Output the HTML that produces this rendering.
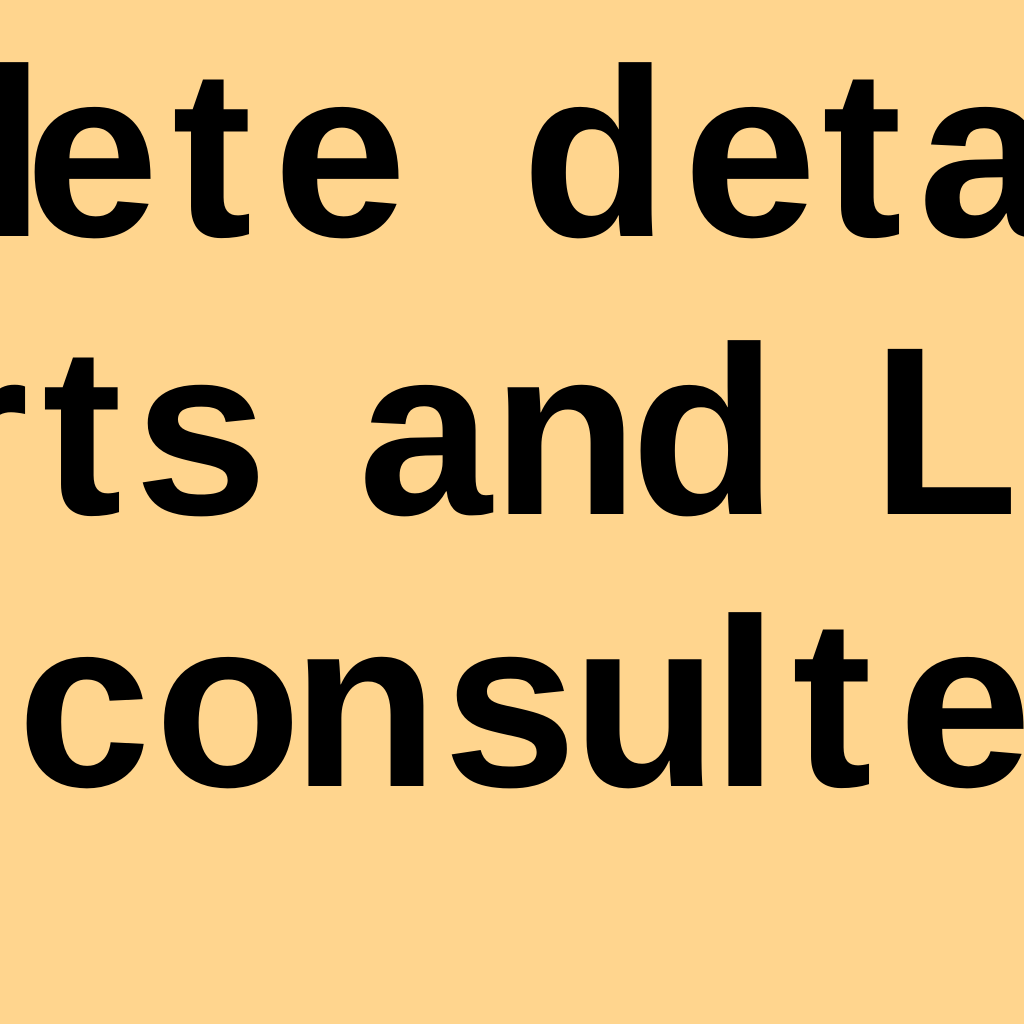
<!DOCTYPE html>
<html><head><style>
html,body{margin:0;padding:0;background:#FFD58E;width:1024px;height:1024px;overflow:hidden}
svg{display:block}
text{font-family:"Liberation Sans",sans-serif;font-size:240px;font-weight:bold;fill:#000;text-anchor:middle}
</style></head><body>
<svg width="1024" height="1024" viewBox="0 0 1024 1024">
<rect width="1024" height="1024" fill="#FFD58E"/>
<g>
<text x="12" y="236">l</text><text x="92" y="236">e</text><text x="212" y="236">t</text><text x="340" y="236">e</text>
<text x="595" y="236">d</text><text x="750" y="236">e</text><text x="862" y="236">t</text><text x="985" y="236">a</text>
</g>
<g>
<text x="-18" y="514">r</text><text x="82" y="514">t</text><text x="201" y="514">s</text>
<text x="425" y="514">a</text><text x="565" y="514">n</text><text x="704" y="514">d</text>
<text x="945" y="514">L</text>
</g>
<g>
<text x="84" y="786">c</text><text x="228" y="786">o</text><text x="365" y="786">n</text><text x="510" y="786">s</text>
<text x="645" y="786">u</text><text x="745" y="786">l</text><text x="832" y="786">t</text><text x="965" y="786">e</text>
</g>
</svg>
</body></html>
